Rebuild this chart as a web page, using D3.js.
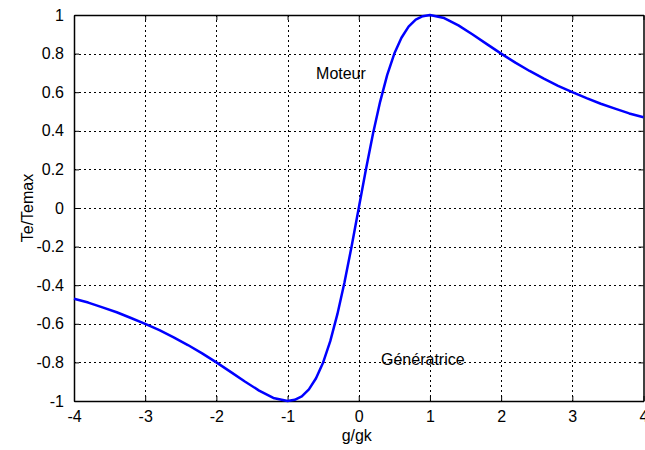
<!DOCTYPE html>
<html><head><meta charset="utf-8">
<script src="https://cdn.jsdelivr.net/npm/d3@7"></script>
<style>body{margin:0;background:#fff}text{font-family:"Liberation Sans",Arial,sans-serif;font-size:16px;fill:#000}</style>
</head><body><svg id="c" width="645" height="450"></svg>
<script>
const xValues = [-4,-3.8,-3.6,-3.4,-3.2,-3,-2.8,-2.6,-2.4,-2.2,-2,-1.8,-1.6,-1.4,-1.2,-1,-0.9,-0.8,-0.7,-0.6,-0.5,-0.4,-0.3,-0.2,-0.1,0,0.1,0.2,0.3,0.4,0.5,0.6,0.7,0.8,0.9,1,1.2,1.4,1.6,1.8,2,2.2,2.4,2.6,2.8,3,3.2,3.4,3.6,3.8,4];
const yValues = [-0.47,-0.49,-0.515,-0.54,-0.57,-0.6,-0.633,-0.67,-0.71,-0.753,-0.8,-0.849,-0.899,-0.946,-0.984,-1,-0.994,-0.976,-0.94,-0.882,-0.8,-0.69,-0.55,-0.385,-0.198,0,0.198,0.385,0.55,0.69,0.8,0.882,0.94,0.976,0.994,1,0.984,0.946,0.899,0.849,0.8,0.753,0.71,0.67,0.633,0.6,0.569,0.54,0.515,0.49,0.47];
const xTicks = [-4,-3,-2,-1,0,1,2,3,4];
const yTicks = [-1,-0.8,-0.6,-0.4,-0.2,0,0.2,0.4,0.6,0.8,1];
const annotations = [{x:-0.25, y:0.7, label:"Moteur"},{x:0.9, y:-0.78, label:"Génératrice"}];
const xLabel = "g/gk", yLabel = "Te/Temax";

const L=74, R=643.5, T=15, B=401;
const svg = d3.select("#c");
const x = d3.scaleLinear().domain([-4,4]).range([L,R]);
const y = d3.scaleLinear().domain([-1,1]).range([B,T]);

// grid
const g = svg.append("g").attr("stroke","#000").attr("stroke-width",1).attr("stroke-dasharray","2,3").attr("shape-rendering","crispEdges");
xTicks.slice(1,-1).forEach(t=>g.append("line").attr("x1",Math.round(x(t))+0.5).attr("x2",Math.round(x(t))+0.5).attr("y1",T).attr("y2",B));
yTicks.slice(1,-1).forEach(t=>g.append("line").attr("y1",Math.round(y(t))+0.5).attr("y2",Math.round(y(t))+0.5).attr("x1",L).attr("x2",R));

// axes
const fmt = d=>String(d);
svg.append("g").attr("transform",`translate(0,${B})`).call(d3.axisBottom(x).tickValues(xTicks).tickFormat(fmt).tickSizeInner(-5).tickSizeOuter(0).tickPadding(10));
svg.append("g").attr("transform",`translate(0,${T})`).call(d3.axisTop(x).tickValues(xTicks).tickFormat("").tickSizeInner(-5).tickSizeOuter(0));
svg.append("g").attr("transform",`translate(${L},0)`).call(d3.axisLeft(y).tickValues(yTicks).tickFormat(fmt).tickSizeInner(-5).tickSizeOuter(0).tickPadding(10));
svg.append("g").attr("transform",`translate(${R},0)`).call(d3.axisRight(y).tickValues(yTicks).tickFormat("").tickSizeInner(-5).tickSizeOuter(0));
svg.selectAll(".domain").attr("stroke","#000").attr("stroke-width",1.5);
svg.selectAll(".tick line").attr("stroke","#000");
svg.selectAll(".tick text").style("font-size","16px").style("font-family","Liberation Sans, Arial, sans-serif");

// curve
const data = xValues.map((v,i)=>[v,yValues[i]]);
svg.append("path").datum(data).attr("fill","none").attr("stroke","#0000ff").attr("stroke-width",2.5)
  .attr("stroke-linejoin","round").attr("d",d3.line().x(d=>x(d[0])).y(d=>y(d[1])));

annotations.forEach(a=>svg.append("text").attr("x",x(a.x)).attr("y",y(a.y)+6).attr("text-anchor","middle").text(a.label));
svg.append("text").attr("x",(L+R)/2-2).attr("y",441).attr("text-anchor","middle").text(xLabel);
svg.append("text").attr("transform",`translate(33,${(T+B)/2}) rotate(-90)`).attr("text-anchor","middle").text(yLabel);
</script></body></html>
